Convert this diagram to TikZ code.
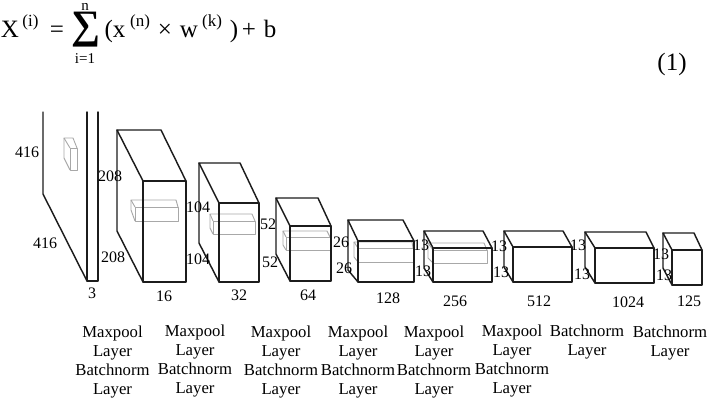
\documentclass[tikz,border=0pt]{standalone}
\usepackage{fontspec}
\setmainfont{Liberation Serif}
\definecolor{ink}{HTML}{1C1C1C}
\definecolor{inner}{HTML}{A8A8A8}
\tikzset{
  edgeline/.style={draw=ink,line width=1.45pt,line join=round,line cap=round},
  innerline/.style={draw=inner,line width=0.9pt,line join=round},
  dimlabel/.style={font=\fontsize{16}{16}\selectfont,text=black,inner sep=0pt},
  caption/.style={font=\fontsize{16.7}{18.9}\selectfont,text=black,inner sep=0pt,align=center,anchor=north},
  eqbig/.style={font=\fontsize{25}{25}\selectfont,text=black,inner sep=0pt,anchor=base},
  eqsup/.style={font=\fontsize{17}{17}\selectfont,text=black,inner sep=0pt,anchor=base},
  eqlimit/.style={font=\fontsize{15}{15}\selectfont,text=black,inner sep=0pt,anchor=base},
}
% #1 back-left x, #2 back top y, #3 back-right x, #4 front-left x, #5 front top y, #6 front right x, #7 bottom y, #8 back bottom y
\newcommand{\cuboid}[8]{%
  \draw[edgeline] (#4,#5) -- (#6,#5) -- (#6,#7) -- (#4,#7) -- cycle;
  \draw[edgeline] (#4,#5) -- (#1,#2) -- (#3,#2) -- (#6,#5);
  \draw[edgeline] (#1,#2) -- (#1,#8) -- (#4,#7);
}
\newcommand{\innerbox}[8]{%
  \draw[innerline] (#4,#5) -- (#6,#5) -- (#6,#7) -- (#4,#7) -- cycle;
  \draw[innerline] (#4,#5) -- (#1,#2) -- (#3,#2) -- (#6,#5);
  \draw[innerline] (#1,#2) -- (#1,#8) -- (#4,#7);
}
\begin{document}
\begin{tikzpicture}[x=1pt,y=-1pt]
\useasboundingbox (0,0) rectangle (708,400);
\fill[white] (0,0) rectangle (708,400);
% equation
\node[eqbig] (eqX) at (10,37) {X};
\node[eqsup] (eqi) at (30.5,26) {(i)};
\node[eqbig] (eqeq) at (57,37) {=};
\node[inner sep=0pt,text=black] (eqsum) at (86,29.5) {\resizebox*{29pt}{35pt}{\textbf{∑}}};
\node[eqlimit] (eqn) at (85,10) {n};
\node[eqlimit] (eqlow) at (85,63.5) {i=1};
\node[eqbig] (eqx) at (115,37) {(x};
\node[eqsup] (eqnn) at (140,26) {(n)};
\node[eqbig] (eqtimes) at (165,37) {×};
\node[eqbig] (eqw) at (189,37) {w};
\node[eqsup] (eqk) at (212,26) {(k)};
\node[eqbig] (eqclose) at (234,37) {)};
\node[eqbig] (eqplus) at (249,37) {+};
\node[eqbig] (eqb) at (270,37) {b};
\node[eqbig] (eqnum) at (672,70) {(1)};
% input slab
\draw[edgeline] (87,112) -- (87,281) -- (98,281) -- (98,112);
\draw[edgeline] (43,112) -- (43,194) -- (87,281);
\innerbox{64}{138}{73}{70}{148}{77}{170}{158}
% cuboids with inner boxes
\innerbox{131}{200}{176}{135}{207}{178}{221}{210}
\cuboid{117}{130}{161}{143}{181}{186}{282}{231}
\innerbox{210}{214}{252}{213}{221}{255}{234}{228}
\cuboid{199}{163}{240}{219}{203}{259}{282}{243}
\innerbox{283}{231}{327}{286}{237}{330}{250}{245}
\cuboid{276}{198}{318}{290}{226}{331}{281}{254}
\innerbox{354}{242}{412}{358}{248}{413}{262}{257}
\cuboid{348}{220}{403}{358}{241}{414}{282}{270}
\innerbox{428}{243}{484}{433}{250}{487}{263}{258}
\cuboid{424}{231}{483}{433}{248}{492}{282}{268}
\cuboid{504}{231}{563}{513}{247}{572}{282}{267}
\cuboid{585}{232}{646}{595}{248}{654}{283}{267}
\cuboid{663}{233}{694}{672}{250}{702}{285}{268}
% dimensions
\node[dimlabel] (a1) at (27,152) {416};
\node[dimlabel] (a2) at (45,243) {416};
\node[dimlabel] (a3) at (92,293) {3};
\node[dimlabel] (b1) at (110,176) {208};
\node[dimlabel] (b2) at (113,257) {208};
\node[dimlabel] (b3) at (164,296) {16};
\node[dimlabel] (c1) at (198,207) {104};
\node[dimlabel] (c2) at (198,259) {104};
\node[dimlabel] (c3) at (239,295) {32};
\node[dimlabel] (d1) at (268,224) {52};
\node[dimlabel] (d2) at (270,262) {52};
\node[dimlabel] (d3) at (308,295) {64};
\node[dimlabel] (e1) at (341,242) {26};
\node[dimlabel] (e2) at (344,268) {26};
\node[dimlabel] (e3) at (388,298) {128};
\node[dimlabel] (f1) at (421,245) {13};
\node[dimlabel] (f2) at (423,271) {13};
\node[dimlabel] (f3) at (455,301) {256};
\node[dimlabel] (g1) at (499,246) {13};
\node[dimlabel] (g2) at (501,272) {13};
\node[dimlabel] (g3) at (539,301) {512};
\node[dimlabel] (h1) at (578,245) {13};
\node[dimlabel] (h2) at (582,274) {13};
\node[dimlabel] (h3) at (628,302) {1024};
\node[dimlabel] (i1) at (661,254) {13};
\node[dimlabel] (i2) at (664,275) {13};
\node[dimlabel] (i3) at (689,301) {125};
% captions
\node[caption] (cap1) at (112.5,326) {Maxpool\\Layer\\Batchnorm\\Layer};
\node[caption] (cap2) at (195,325) {Maxpool\\Layer\\Batchnorm\\Layer};
\node[caption] (cap3) at (281,326) {Maxpool\\Layer\\Batchnorm\\Layer};
\node[caption] (cap4) at (358,326) {Maxpool\\Layer\\Batchnorm\\Layer};
\node[caption] (cap5) at (434,326) {Maxpool\\Layer\\Batchnorm\\Layer};
\node[caption] (cap6) at (512,325) {Maxpool\\Layer\\Batchnorm\\Layer};
\node[caption] (cap7) at (587,325) {Batchnorm\\Layer};
\node[caption] (cap8) at (670,326) {Batchnorm\\Layer};
\end{tikzpicture}
\end{document}
